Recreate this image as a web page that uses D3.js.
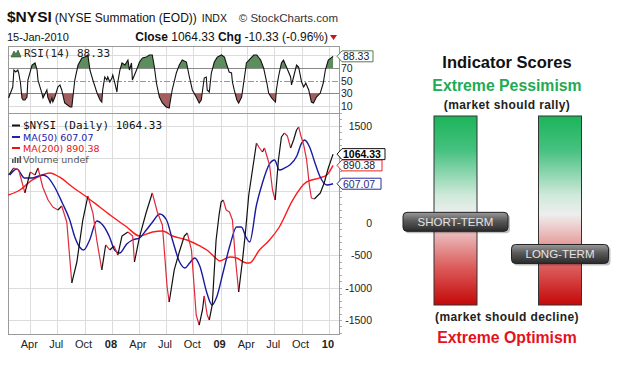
<!DOCTYPE html>
<html><head><meta charset="utf-8">
<script src="https://cdn.jsdelivr.net/npm/d3@7"></script>
<style>body{margin:0;background:#fff;} svg{display:block;}</style>
</head><body>
<svg id="c" width="630" height="369"></svg>
<script>
// ---------------- DATA ----------------
const nysiDates = ["2007-01-18","2007-02-04","2007-02-21","2007-03-14","2007-04-01","2007-04-17","2007-04-27","2007-05-13","2007-05-31","2007-06-16","2007-07-03","2007-07-16","2007-08-02","2007-08-19","2007-09-05","2007-09-25","2007-10-12","2007-10-29","2007-11-11","2007-11-28","2007-12-11","2007-12-25","2008-01-08","2008-01-21","2008-02-04","2008-02-24","2008-03-11","2008-03-17","2008-04-03","2008-04-26","2008-05-16","2008-06-02","2008-06-19","2008-07-05","2008-07-12","2008-07-29","2008-08-15","2008-09-01","2008-09-11","2008-09-25","2008-10-11","2008-10-21","2008-11-01","2008-11-07","2008-11-17","2008-11-24","2008-12-04","2008-12-17","2008-12-27","2009-01-03","2009-01-10","2009-01-20","2009-01-31","2009-02-10","2009-02-19","2009-03-03","2009-03-16","2009-03-26","2009-04-06","2009-04-16","2009-04-26","2009-05-02","2009-05-12","2009-05-22","2009-05-29","2009-06-05","2009-06-15","2009-06-25","2009-07-04","2009-07-15","2009-07-25","2009-08-04","2009-08-14","2009-08-25","2009-09-04","2009-09-14","2009-09-21","2009-09-28","2009-10-08","2009-10-18","2009-10-27","2009-11-03","2009-11-13","2009-11-23","2009-12-03","2009-12-16","2009-12-30","2010-01-15"];
const nysiValues = [742,850,819,464,788,742,850,556,355,247,201,263,15,-927,-603,46,417,155,-263,-726,-340,-417,-355,-495,-201,-139,-201,-603,-216,170,464,170,-31,-989,-1221,-726,-448,-201,-155,-417,-1422,-1577,-1345,-1128,-1422,-1499,-1267,-263,124,325,355,201,170,46,-495,-1066,-572,-139,433,742,1051,1236,1159,1097,1159,1051,896,510,355,974,1329,1391,1345,1159,1283,1437,1484,1360,1206,974,587,386,371,417,464,618,850,1064.33];

const ma50Dates = ["2007-01-22","2007-02-15","2007-03-12","2007-04-08","2007-05-12","2007-05-29","2007-06-22","2007-07-18","2007-08-12","2007-08-29","2007-09-14","2007-09-28","2007-10-18","2007-11-11","2007-12-01","2007-12-24","2008-01-10","2008-01-27","2008-02-20","2008-03-10","2008-04-03","2008-04-26","2008-05-17","2008-06-10","2008-07-03","2008-07-23","2008-08-16","2008-09-03","2008-09-19","2008-10-06","2008-10-23","2008-11-16","2008-12-03","2008-12-19","2009-01-09","2009-02-02","2009-02-24","2009-03-12","2009-03-29","2009-04-09","2009-05-02","2009-05-22","2009-06-15","2009-07-02","2009-07-18","2009-08-05","2009-08-22","2009-09-15","2009-10-01","2009-10-11","2009-10-28","2009-11-14","2009-12-01","2009-12-25","2010-01-15"];
const ma50Values = [742,835,696,696,742,711,556,309,46,-216,-371,-417,-263,31,-31,-216,-417,-464,-325,-263,-232,-108,15,139,46,-263,-603,-696,-618,-541,-665,-1082,-1267,-1144,-773,-340,-62,-62,-232,-294,278,618,912,974,819,850,896,1036,1236,1283,1175,943,726,587,607.07];

const ma200Dates = ["2007-01-17","2007-02-25","2007-04-08","2007-05-12","2007-06-05","2007-07-08","2007-08-21","2007-10-08","2007-11-21","2008-01-04","2008-02-20","2008-04-03","2008-05-17","2008-06-20","2008-07-23","2008-09-10","2008-10-23","2008-11-16","2008-12-19","2008-12-29","2009-02-02","2009-02-24","2009-03-29","2009-04-09","2009-05-12","2009-06-15","2009-07-18","2009-09-01","2009-10-18","2009-12-01","2009-12-25","2010-01-15"];
const ma200Values = [433,510,665,742,773,711,556,402,247,93,-62,-201,-139,-124,-201,-263,-355,-417,-556,-587,-525,-541,-618,-618,-417,-263,-62,355,634,696,742,890.38];

const rsiDates = ["2007-01-18","2007-02-01","2007-02-05","2007-02-11","2007-02-18","2007-02-21","2007-02-27","2007-03-04","2007-03-08","2007-03-14","2007-03-21","2007-03-24","2007-04-07","2007-04-17","2007-04-24","2007-04-27","2007-05-10","2007-05-14","2007-05-27","2007-05-30","2007-06-07","2007-06-13","2007-06-16","2007-06-23","2007-07-03","2007-07-10","2007-07-16","2007-07-26","2007-08-13","2007-08-19","2007-08-29","2007-09-09","2007-09-22","2007-10-02","2007-10-12","2007-10-19","2007-10-29","2007-11-12","2007-11-22","2007-11-28","2007-12-01","2007-12-08","2007-12-15","2007-12-18","2007-12-25","2008-01-01","2008-01-04","2008-01-11","2008-01-18","2008-01-21","2008-01-28","2008-02-04","2008-02-14","2008-02-20","2008-02-24","2008-02-29","2008-03-07","2008-03-10","2008-03-24","2008-04-03","2008-04-13","2008-04-26","2008-05-06","2008-05-16","2008-05-23","2008-05-30","2008-06-09","2008-06-19","2008-07-02","2008-07-12","2008-07-22","2008-08-05","2008-08-15","2008-08-25","2008-09-08","2008-09-18","2008-09-28","2008-10-11","2008-10-21","2008-10-28","2008-11-07","2008-11-14","2008-11-17","2008-11-24","2008-12-01","2008-12-11","2008-12-21","2009-01-04","2009-01-14","2009-01-20","2009-01-30","2009-02-07","2009-02-10","2009-02-16","2009-02-25","2009-03-03","2009-03-13","2009-03-26","2009-03-29","2009-04-13","2009-04-23","2009-05-03","2009-05-16","2009-05-26","2009-06-06","2009-06-12","2009-06-22","2009-07-05","2009-07-08","2009-07-15","2009-07-25","2009-08-01","2009-08-11","2009-08-25","2009-08-28","2009-09-04","2009-09-14","2009-09-21","2009-10-01","2009-10-08","2009-10-15","2009-10-25","2009-11-03","2009-11-10","2009-11-20","2009-12-03","2009-12-13","2009-12-20","2009-12-30","2010-01-15"];
const rsiValues = [22.6,39.9,66.7,63.6,66.7,62,46.2,22.6,19.4,19.4,24.1,50.9,74.6,77.8,66.7,50.9,30.4,22.6,35.2,24.1,14.7,22.6,16.2,24.1,39.9,43.1,35.2,14.7,8.4,8.4,50.9,74.6,85.6,87.1,90.4,66.7,50.9,30.4,19.4,16.2,35.2,55.7,50.9,55.7,47.8,54.1,58.8,46.2,32,47.8,66.7,77.8,74.6,79.3,82.5,66.7,77.8,50.9,66.7,79.3,85.6,87.1,90.4,90.4,71.5,46.2,24.1,14.7,8.4,6.8,35.2,62,74.6,82.5,79.3,55.7,35.2,24.1,14.7,19.4,54.1,55.7,35.2,32,62,79.3,87.1,90.4,87.1,77.8,63.6,62,47.8,35.2,19.4,14.7,24.1,66.7,77.8,85.6,90.4,90.4,82.5,69.9,46.2,30.4,22.6,16.2,35.2,55.7,77.8,82.5,71.5,55.7,43.1,55.7,74.6,71.5,47.8,39.9,46.2,35.2,16.2,14.7,24.1,30.4,46.2,66.7,82.5,88.33];

const xTickDates = ["2007-04-01","2007-07-01","2007-10-01","2008-01-01","2008-04-01","2008-07-01","2008-10-01","2009-01-01","2009-04-01","2009-07-01","2009-10-01","2010-01-01"];
const xTickLabels = ["Apr","Jul","Oct","08","Apr","Jul","Oct","09","Apr","Jul","Oct","10"];
const yTicks = [-1500,-1000,-500,0,500,1000,1500];
const rsiTicks = [10,30,50,70];
const lastNysi = 1064.33, lastMa50 = 607.07, lastMa200 = 890.38, lastRsi = 88.33;

const scoreNames = ["SHORT-TERM","LONG-TERM"];
const scoreValues = [44, 27];   // 100 = extreme pessimism (top), 0 = extreme optimism (bottom)

// ---------------- SETUP ----------------
const parse = d3.timeParse("%Y-%m-%d");
const svg = d3.select("#c");
const plotL = 8, plotR = 339;
const rsiTop = 46, rsiBot = 113, mainTop = 113, mainBot = 334;
const x = d3.scaleTime().domain([parse("2007-01-16"), parse("2010-02-04")]).range([plotL, plotR]);
const y = d3.scaleLinear().domain([-1716, 1700]).range([mainBot, mainTop]);
const yr = d3.scaleLinear().domain([0, 104.6]).range([112.3, rsiTop]);
const AR = "Arial, 'Liberation Sans', sans-serif";

const defs = svg.append("defs");
defs.append("clipPath").attr("id","clipMain").append("rect")
  .attr("x",plotL).attr("y",mainTop).attr("width",plotR-plotL).attr("height",mainBot-mainTop);
defs.append("clipPath").attr("id","clipRsi").append("rect")
  .attr("x",plotL).attr("y",rsiTop).attr("width",plotR-plotL).attr("height",rsiBot-rsiTop);
defs.append("clipPath").attr("id","clipAbove").append("rect")
  .attr("x",plotL).attr("y",rsiTop).attr("width",plotR-plotL).attr("height",yr(70)-rsiTop);
defs.append("clipPath").attr("id","clipBelow").append("rect")
  .attr("x",plotL).attr("y",yr(30)).attr("width",plotR-plotL).attr("height",rsiBot-yr(30));

// ---------------- TITLE ----------------
const t1 = svg.append("text").attr("x",7).attr("y",22).attr("font-family",AR).attr("fill","#111");
t1.append("tspan").attr("font-size",15.5).attr("font-weight","bold").text("$NYSI");
t1.append("tspan").attr("font-size",12).attr("dx",3).text("(NYSE Summation (EOD))");
t1.append("tspan").attr("font-size",10.5).attr("dx",5).text("INDX");
svg.append("text").attr("x",338).attr("y",22).attr("text-anchor","end").attr("font-family",AR)
  .attr("font-size",11.5).attr("fill","#333").text("© StockCharts.com");
svg.append("text").attr("x",7).attr("y",41).attr("font-family",AR).attr("font-size",11).attr("fill","#111").text("15-Jan-2010");
const t2 = svg.append("text").attr("x",328).attr("y",41).attr("text-anchor","end").attr("font-family",AR).attr("font-size",12).attr("fill","#111");
t2.append("tspan").attr("font-weight","bold").text("Close");
t2.append("tspan").text(" 1064.33 ");
t2.append("tspan").attr("font-weight","bold").text("Chg");
t2.append("tspan").text(" -10.33 (-0.96%)");
svg.append("path").attr("d","M330,35 L337,35 L333.5,40 Z").attr("fill","#cc1122");

// ---------------- GRIDS ----------------
const grid = svg.append("g");
xTickDates.forEach(d => {
  const xx = Math.round(x(parse(d))) + 0.5;
  grid.append("line").attr("x1",xx).attr("x2",xx).attr("y1",rsiTop).attr("y2",mainBot).attr("stroke","#dcdcdc");
});
yTicks.forEach(v => {
  const yy = Math.round(y(v)) + 0.5;
  grid.append("line").attr("x1",plotL).attr("x2",plotR).attr("y1",yy).attr("y2",yy).attr("stroke","#dcdcdc");
});
[10,90].forEach(v => {
  const yy = Math.round(yr(v)) + 0.5;
  grid.append("line").attr("x1",plotL).attr("x2",plotR).attr("y1",yy).attr("y2",yy).attr("stroke","#dcdcdc");
});
[30,70].forEach(v => {
  const yy = Math.round(yr(v)) + 0.5;
  grid.append("line").attr("x1",plotL).attr("x2",plotR).attr("y1",yy).attr("y2",yy).attr("stroke","#8a8a8a");
});
grid.append("line").attr("x1",plotL).attr("x2",plotR).attr("y1",Math.round(yr(50))+0.5).attr("y2",Math.round(yr(50))+0.5)
  .attr("stroke","#999").attr("stroke-dasharray","6,2,2,2");

d3.range(-1700, 1701, 100).forEach(v => {
  const yy = Math.round(y(v)) + 0.5;
  svg.append("line").attr("x1",plotR).attr("x2",plotR+3).attr("y1",yy).attr("y2",yy).attr("stroke","#aaa");
});

svg.append("rect").attr("x",plotL+0.5).attr("y",rsiTop+0.5).attr("width",plotR-plotL).attr("height",rsiBot-rsiTop).attr("fill","none").attr("stroke","#9a9a9a");
svg.append("rect").attr("x",plotL+0.5).attr("y",mainTop+0.5).attr("width",plotR-plotL).attr("height",mainBot-mainTop).attr("fill","none").attr("stroke","#9a9a9a");

// ---------------- RSI ----------------
const rsiData = rsiDates.map((d,i)=>({d:parse(d), v:rsiValues[i]}));
const rsiG = svg.append("g").attr("clip-path","url(#clipRsi)");
rsiG.append("path").datum(rsiData).attr("clip-path","url(#clipAbove)")
  .attr("d", d3.area().x(p=>x(p.d)).y0(yr(70)).y1(p=>yr(p.v))).attr("fill","#5d8d5d");
rsiG.append("path").datum(rsiData).attr("clip-path","url(#clipBelow)")
  .attr("d", d3.area().x(p=>x(p.d)).y0(yr(30)).y1(p=>yr(p.v))).attr("fill","#a35e5e");
rsiG.append("path").datum(rsiData).attr("d", d3.line().x(p=>x(p.d)).y(p=>yr(p.v)))
  .attr("fill","none").attr("stroke","#111").attr("stroke-width",1.1);

svg.append("path").attr("d","M11,57 L14,51 L16,54 L18,50 L21,57 Z").attr("fill","#4f7f4f").attr("stroke","#2d4d2d").attr("stroke-width",0.6);
svg.append("text").attr("x",24).attr("y",57).attr("font-family","'DejaVu Sans Mono', monospace").attr("font-size",11)
  .attr("fill","#222").text("RSI(14) 88.33");
rsiTicks.forEach(v => {
  svg.append("text").attr("x",341).attr("y",yr(v)+4).attr("font-family",AR).attr("font-size",10.5).attr("fill","#222").text(v);
});

// ---------------- TAG helper ----------------
function tag(yc, txt, stroke, color, bold, w) {
  const x0 = 337, h = 11, top = yc - h/2, bot = yc + h/2;
  svg.append("path").attr("d",`M${x0},${yc} L${x0+5},${top} L${x0+w},${top} L${x0+w},${bot} L${x0+5},${bot} Z`)
    .attr("fill","#fff").attr("stroke",stroke).attr("stroke-width",1);
  svg.append("text").attr("x",x0+6).attr("y",yc+4).attr("font-family",AR).attr("font-size",10.5)
    .attr("font-weight",bold?"bold":"normal").attr("fill",color).text(txt);
}
tag(yr(lastRsi), lastRsi.toFixed(2), "#5a7a5a", "#222", false, 36);

// ---------------- MAIN ----------------
const tagVals = [lastNysi, lastMa50, lastMa200];
yTicks.forEach(v => {
  // labels hidden behind the value tags in the reference are not drawn
  if (tagVals.some(t => Math.abs(y(t) - y(v)) < 8)) return;
  svg.append("text").attr("x",372).attr("y",y(v)+4).attr("text-anchor","end").attr("font-family",AR)
    .attr("font-size",10.5).attr("fill","#222").text(v);
});

const mainG = svg.append("g").attr("clip-path","url(#clipMain)");
const ma200Data = ma200Dates.map((d,i)=>({d:parse(d), v:ma200Values[i]}));
const ma50Data = ma50Dates.map((d,i)=>({d:parse(d), v:ma50Values[i]}));
const smooth = d3.line().x(p=>x(p.d)).y(p=>y(p.v)).curve(d3.curveMonotoneX);
mainG.append("path").datum(ma200Data).attr("d", smooth)
  .attr("fill","none").attr("stroke","#ff1a1a").attr("stroke-width",1.4);
mainG.append("path").datum(ma50Data).attr("d", smooth)
  .attr("fill","none").attr("stroke","#1a1aa0").attr("stroke-width",1.4);

const pData = nysiDates.map((d,i)=>({d:parse(d), v:nysiValues[i]}));
let runs = [];
for (let i=1;i<pData.length;i++){
  const down = pData[i].v < pData[i-1].v;
  if (runs.length && runs[runs.length-1].down === down) runs[runs.length-1].pts.push(pData[i]);
  else runs.push({down, pts:[pData[i-1], pData[i]]});
}
const pl = d3.line().x(p=>x(p.d)).y(p=>y(p.v));
runs.forEach(r => {
  mainG.append("path").datum(r.pts).attr("d", pl).attr("fill","none")
    .attr("stroke", r.down ? "#e0283c" : "#111").attr("stroke-width",1.2).attr("stroke-linejoin","round");
});

// main legend
svg.append("line").attr("x1",12).attr("x2",20).attr("y1",125.5).attr("y2",125.5).attr("stroke","#111").attr("stroke-width",2);
svg.append("text").attr("x",23).attr("y",129).attr("font-family","'DejaVu Sans Mono', monospace").attr("font-size",11).attr("fill","#111").text("$NYSI (Daily) 1064.33");
const LF = "'DejaVu Sans', Verdana, sans-serif";
function legendRow(yy, color, txt) {
  svg.append("line").attr("x1",12).attr("x2",20).attr("y1",yy-3.5).attr("y2",yy-3.5).attr("stroke",color).attr("stroke-width",2);
  svg.append("text").attr("x",23).attr("y",yy).attr("font-family",LF).attr("font-size",9.5).attr("fill",color).text(txt);
}
legendRow(140.5, "#2222aa", "MA(50) 607.07");
legendRow(151.5, "#ee1111", "MA(200) 890.38");
[[12,4],[14.5,6],[17,5],[19.5,7]].forEach(([bx,bh]) => {
  svg.append("rect").attr("x",bx).attr("y",163-bh).attr("width",1.6).attr("height",bh).attr("fill","#555");
});
svg.append("text").attr("x",23).attr("y",163).attr("font-family",LF).attr("font-size",9.5).attr("fill","#555").text("Volume undef");

tag(y(lastMa50), lastMa50.toFixed(2), "#2a2aa0", "#2a2a7a", false, 44);
tag(y(lastMa200), lastMa200.toFixed(2), "#ee2222", "#222", false, 45);
tag(y(lastNysi), lastNysi.toFixed(2), "#111", "#000", true, 48);

xTickDates.forEach((d,i) => {
  const isYear = /^\d\d$/.test(xTickLabels[i]);
  svg.append("text").attr("x",x(parse(d))-1).attr("y",348).attr("text-anchor","middle")
    .attr("font-family",AR).attr("font-size",11).attr("font-weight",isYear?"bold":"normal")
    .attr("fill","#222").text(xTickLabels[i]);
});

// ---------------- INDICATOR SCORES ----------------
const cx = 507;
svg.append("text").attr("x",cx).attr("y",68).attr("text-anchor","middle").attr("font-family",AR)
  .attr("font-size",16.5).attr("font-weight","bold").attr("fill","#111").text("Indicator Scores");
svg.append("text").attr("x",cx).attr("y",91).attr("text-anchor","middle").attr("font-family",AR)
  .attr("font-size",15.8).attr("font-weight","bold").attr("fill","#22aa55").text("Extreme Pessimism");
svg.append("text").attr("x",cx).attr("y",109).attr("text-anchor","middle").attr("font-family",AR)
  .attr("font-size",12).attr("font-weight","bold").attr("letter-spacing",0.4).attr("fill","#222").text("(market should rally)");
svg.append("text").attr("x",cx).attr("y",321).attr("text-anchor","middle").attr("font-family",AR)
  .attr("font-size",12).attr("font-weight","bold").attr("letter-spacing",0.4).attr("fill","#222").text("(market should decline)");
svg.append("text").attr("x",cx).attr("y",343).attr("text-anchor","middle").attr("font-family",AR)
  .attr("font-size",15.8).attr("font-weight","bold").attr("fill","#e4121c").text("Extreme Optimism");

const grad = defs.append("linearGradient").attr("id","barGrad").attr("x1",0).attr("y1",0).attr("x2",0).attr("y2",1);
[[0,"#1cb45a"],[0.18,"#45c17f"],[0.42,"#cfe9da"],[0.52,"#eeeeee"],[0.6,"#ecc6c6"],[0.8,"#dc5c5c"],[1,"#c40808"]]
  .forEach(([o,c]) => grad.append("stop").attr("offset",o).attr("stop-color",c));
const bgrad = defs.append("linearGradient").attr("id","btnGrad").attr("x1",0).attr("y1",0).attr("x2",0).attr("y2",1);
[[0,"#9a9a9a"],[0.45,"#5a5a5a"],[1,"#2a2a2a"]].forEach(([o,c]) => bgrad.append("stop").attr("offset",o).attr("stop-color",c));

const sy = d3.scaleLinear().domain([0,100]).range([305,116]);
const sx = d3.scalePoint().domain(scoreNames).range([455.5, 560]);
const barW = 43;
scoreNames.forEach(n => {
  const bc = sx(n);
  svg.append("rect").attr("x",bc-barW/2).attr("y",sy(100)).attr("width",barW).attr("height",sy(0)-sy(100))
    .attr("fill","url(#barGrad)").attr("stroke","#333").attr("stroke-width",1);
});
scoreNames.forEach((n,i) => {
  const bc = sx(n);
  const by = sy(scoreValues[i]);
  const bw = i===0 ? 105 : 97, bh = 19;
  svg.append("rect").attr("x",bc-bw/2+2).attr("y",by-bh/2+2).attr("width",bw).attr("height",bh).attr("rx",4)
    .attr("fill","#000").attr("opacity",0.25);
  svg.append("rect").attr("x",bc-bw/2).attr("y",by-bh/2).attr("width",bw).attr("height",bh).attr("rx",4)
    .attr("fill","url(#btnGrad)").attr("stroke","#222");
  svg.append("text").attr("x",bc).attr("y",by+4).attr("text-anchor","middle").attr("font-family",AR)
    .attr("font-size",11.5).attr("fill","#e4e4e4").text(n);
});
</script>
</body></html>
